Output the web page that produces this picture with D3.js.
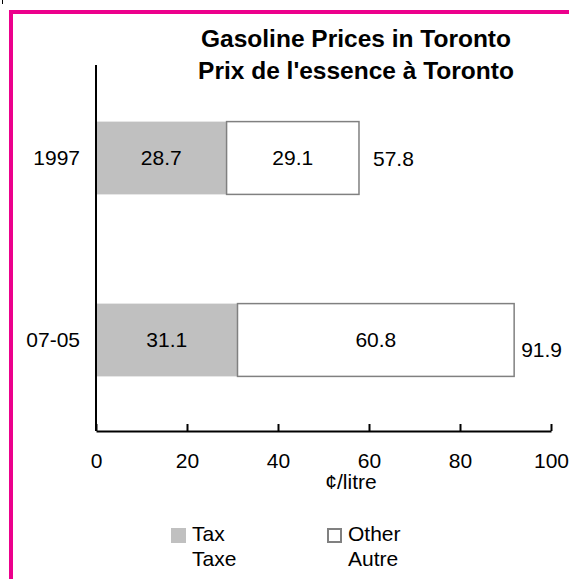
<!DOCTYPE html>
<html>
<head>
<meta charset="utf-8">
<script src="https://cdn.jsdelivr.net/npm/d3@7"></script>
<style>
  body { margin: 0; background: #fff; }
  svg { display: block; font-family: "Liberation Sans", Arial, Helvetica, sans-serif; }
</style>
</head>
<body>
<div id="chart"></div>
<script>
// Gasoline prices in Toronto - stacked horizontal bars (tax + other)

const categories = ['1997', '07-05'];
const taxValues = [28.7, 31.1];
const otherValues = [29.1, 60.8];
const totalValues = [57.8, 91.9];
const xTicks = [0, 20, 40, 60, 80, 100];
const titleLines = ['Gasoline Prices in Toronto', "Prix de l'essence à Toronto"];
const legendItems = [
    { key: 'tax', lines: ['Tax', 'Taxe'] },
    { key: 'other', lines: ['Other', 'Autre'] }
];

const W = 569, H = 579;
const plot = { left: 96, right: 551, top: 67, bottom: 431 };
const pink = '#ec008c';
const colors = { tax: '#c0c0c0', other: '#ffffff' };
const fontSize = '21px';

const svg = d3.select('#chart').append('svg')
    .attr('width', W)
    .attr('height', H);

svg.append('rect').attr('width', W).attr('height', H).attr('fill', '#fff');

// pink frame (top + left)
svg.append('path')
    .attr('d', `M11,${H} V12 H${W}`)
    .attr('fill', 'none')
    .attr('stroke', pink)
    .attr('stroke-width', 4);
svg.append('line')
    .attr('x1', 2.5).attr('x2', 2.5).attr('y1', 0).attr('y2', 4)
    .attr('stroke', '#000').attr('stroke-width', 1);

// title
svg.append('text')
    .attr('text-anchor', 'middle')
    .style('font-size', '24.5px')
    .style('font-weight', 'bold')
    .selectAll('tspan')
    .data(titleLines)
    .join('tspan')
    .attr('x', 356)
    .attr('y', (d, i) => 47 + i * 32)
    .text(d => d);

// scales
const xScale = d3.scaleLinear()
    .domain([0, 100])
    .range([plot.left, plot.right]);

const yScale = d3.scaleBand()
    .domain(categories)
    .range([plot.top, plot.bottom])
    .paddingInner(0.6)
    .paddingOuter(0.3);

// data rows
const rows = categories.map((c, i) => ({
    cat: c, tax: taxValues[i], other: otherValues[i], total: totalValues[i]
}));
const series = d3.stack().keys(['tax', 'other'])(rows);

// bars
svg.append('g')
    .selectAll('g')
    .data(series)
    .join('g')
    .attr('fill', d => colors[d.key])
    .attr('stroke', d => d.key === 'other' ? '#808080' : 'none')
    .attr('stroke-width', 1.5)
    .selectAll('rect')
    .data(d => d)
    .join('rect')
    .attr('x', d => xScale(d[0]))
    .attr('width', d => xScale(d[1]) - xScale(d[0]))
    .attr('y', d => yScale(d.data.cat))
    .attr('height', yScale.bandwidth());

// segment labels
series.forEach(s => {
    svg.append('g')
        .selectAll('text')
        .data(s)
        .join('text')
        .attr('x', d => (xScale(d[0]) + xScale(d[1])) / 2)
        .attr('y', d => yScale(d.data.cat) + yScale.bandwidth() / 2)
        .attr('dy', '0.35em')
        .attr('text-anchor', 'middle')
        .style('font-size', fontSize)
        .text(d => d3.format('.1f')(d.data[s.key]));
});

// total labels, nudged down if they would run off the right edge
svg.append('g')
    .selectAll('text')
    .data(rows)
    .join('text')
    .style('font-size', fontSize)
    .text(d => d3.format('.1f')(d.total))
    .each(function(d) {
        const w = this.getComputedTextLength();
        let x = xScale(d.total) + 14;
        let y = yScale(d.cat) + yScale.bandwidth() / 2 + 1;
        if (x + w > W - 6) {
            x = xScale(d.total) + 7;
            y += 9;
        }
        d3.select(this).attr('x', x).attr('y', y).attr('dy', '0.35em');
    });

// axes
const xAxis = d3.axisBottom(xScale)
    .tickValues(xTicks)
    .tickSizeInner(-7)
    .tickSizeOuter(0)
    .tickPadding(22);

const xAxisGroup = svg.append('g')
    .attr('transform', `translate(0,${plot.bottom})`)
    .call(xAxis);
xAxisGroup.selectAll('path, line').attr('stroke', '#000').attr('stroke-width', 2);
xAxisGroup.selectAll('text')
    .style('font-size', fontSize)
    .style('font-family', '"Liberation Sans", Arial, sans-serif')
    .attr('fill', '#000');

const yAxis = d3.axisLeft(yScale)
    .tickSize(0)
    .tickPadding(16);

const yAxisGroup = svg.append('g')
    .attr('transform', `translate(${plot.left},0)`)
    .call(yAxis);
yAxisGroup.select('.domain')
    .attr('stroke', '#000')
    .attr('stroke-width', 2)
    .attr('d', `M0,${plot.top - 2}V${plot.bottom}`);
yAxisGroup.selectAll('text')
    .style('font-size', fontSize)
    .style('font-family', '"Liberation Sans", Arial, sans-serif')
    .attr('fill', '#000');

// axis title
svg.append('text')
    .attr('x', 351)
    .attr('y', 489)
    .attr('text-anchor', 'middle')
    .style('font-size', fontSize)
    .text('¢/litre');

// legend
const legend = svg.append('g')
    .attr('transform', 'translate(171,528)');

legendItems.forEach((item, i) => {
    const g = legend.append('g')
        .attr('transform', `translate(${i * 156},0)`);
    g.append('rect')
        .attr('x', item.key === 'other' ? 1 : 0)
        .attr('y', item.key === 'other' ? 1 : 0)
        .attr('width', item.key === 'other' ? 13 : 15)
        .attr('height', item.key === 'other' ? 13 : 15)
        .attr('fill', colors[item.key])
        .attr('stroke', item.key === 'other' ? '#808080' : 'none')
        .attr('stroke-width', 2);
    g.append('text')
        .style('font-size', fontSize)
        .selectAll('tspan')
        .data(item.lines)
        .join('tspan')
        .attr('x', 21)
        .attr('y', (d, j) => 13 + j * 25)
        .text(d => d);
});
</script>
</body>
</html>
